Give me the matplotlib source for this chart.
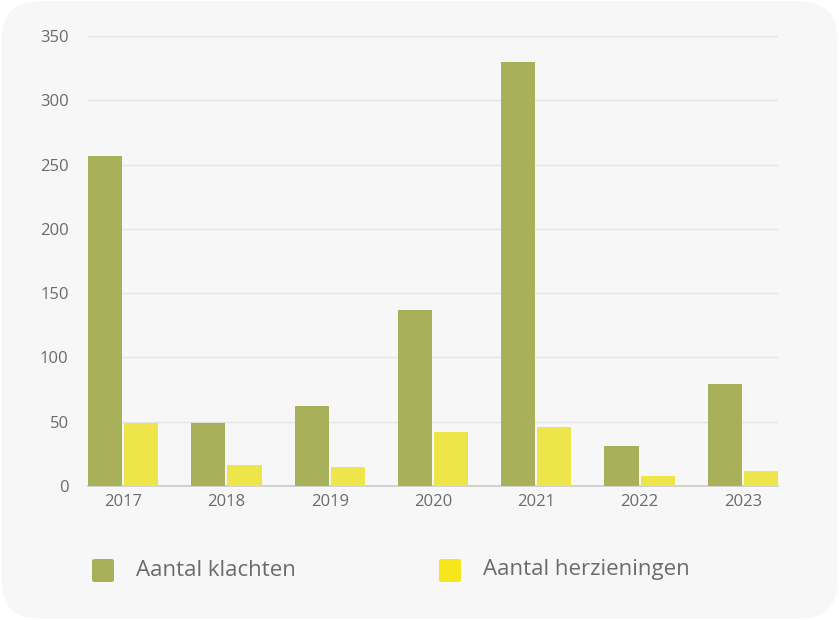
import matplotlib
matplotlib.use("Agg")
import matplotlib.pyplot as plt
import numpy as np
from matplotlib.patches import FancyBboxPatch

plt.rcParams['font.family'] = ['Open Sans', 'DejaVu Sans']

# data
jaren = ['2017', '2018', '2019', '2020', '2021', '2022', '2023']
klachten = [257, 49, 62, 137, 330, 31, 79]
herzieningen = [49, 16, 15, 42, 46, 8, 12]

groen = '#a9b05a'
geel = '#ede54a'
geel_legend = '#f7e61b'
tekst = '#6b6b6b'

fig = plt.figure(figsize=(8.39, 6.2), dpi=100)
fig.patch.set_facecolor('white')

# card background
kaart = FancyBboxPatch((0.002, 0.002), 0.996, 0.996,
                       boxstyle="round,pad=0,rounding_size=0.045",
                       transform=fig.transFigure, facecolor='#f7f7f7',
                       edgecolor='none', zorder=-10, mutation_aspect=839 / 620)
fig.patches.append(kaart)

ax = fig.add_axes([0.1049, 0.2161, 0.8224, 0.7258])
ax.set_facecolor('none')

x = np.arange(len(jaren))
w = 0.33
ax.bar(x - w / 2 - 0.01, klachten, width=w, color=groen, zorder=3)
ax.bar(x + w / 2 + 0.01, herzieningen, width=w, color=geel, zorder=3)

ax.set_xlim(-0.34, 6.34)
ax.set_ylim(0, 350)
ax.set_yticks(range(0, 351, 50))
ax.set_xticks(x)
ax.set_xticklabels(jaren)
ax.yaxis.grid(True, color='#e4e4e4', linewidth=1)
ax.set_axisbelow(True)
for s in ['top', 'right', 'left']:
    ax.spines[s].set_visible(False)
ax.spines['bottom'].set_color('#cccccc')
ax.spines['bottom'].set_linewidth(1.2)
ax.tick_params(axis='both', length=0, labelcolor=tekst, labelsize=12)
ax.tick_params(axis='y', pad=14)
ax.tick_params(axis='x', pad=6)

# legend
items = [(groen, 'Aantal klachten', 92), (geel_legend, 'Aantal herzieningen', 439)]
for kleur, label, px in items:
    sq = FancyBboxPatch((px / 839, (620 - 582) / 620), 22 / 839, 23 / 620,
                        boxstyle="round,pad=0,rounding_size=0.003",
                        transform=fig.transFigure, facecolor=kleur,
                        edgecolor='none')
    fig.patches.append(sq)
    fig.text((px + 44) / 839, (620 - 570) / 620, label, color=tekst,
             fontsize=16, va='center', ha='left')

fig.savefig('out.png', dpi=100, facecolor=fig.get_facecolor())
